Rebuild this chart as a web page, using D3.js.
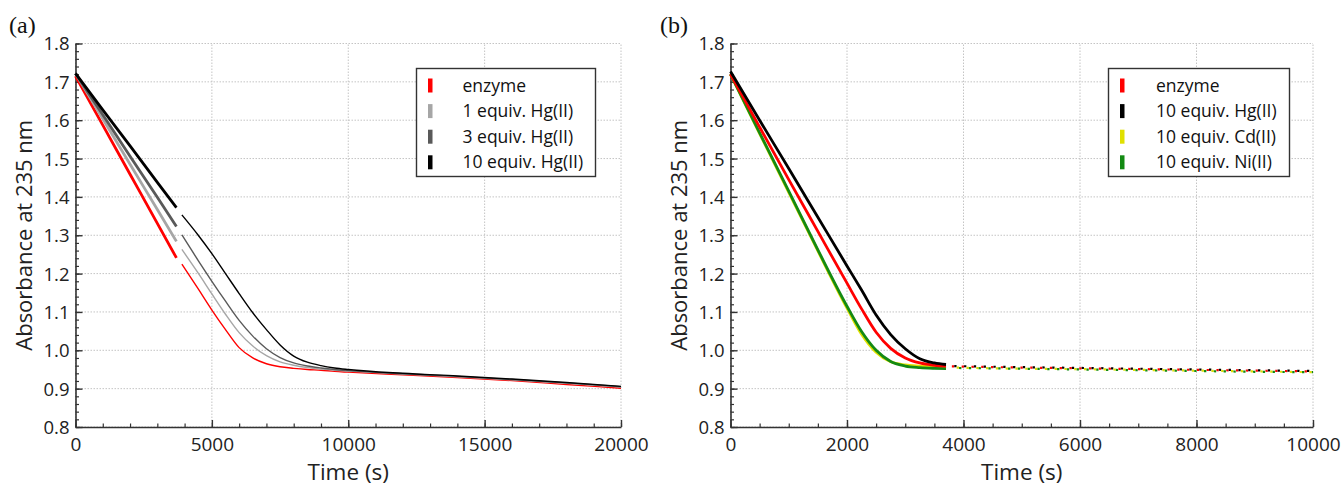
<!DOCTYPE html>
<html><head><meta charset="utf-8">
<script src="https://cdn.jsdelivr.net/npm/d3@7"></script>
<style>
body{margin:0;background:#fff}
svg{display:block}
</style>
</head><body>
<svg id="c" width="1341" height="487"></svg>
<script>
// ---------- Panel (a) data ----------
const aTime1 = [0, 1000, 2000, 3000, 3700];
const aEnzyme1 = [1.715, 1.587, 1.459, 1.331, 1.241];
const aHg1_1   = [1.722, 1.604, 1.485, 1.367, 1.284];
const aHg3_1   = [1.722, 1.614, 1.506, 1.399, 1.323];
const aHg10_1  = [1.722, 1.627, 1.533, 1.438, 1.372];

const aTime2 = [3900, 4500, 5000, 5500, 6000, 6500, 7000, 7500, 8000, 8500, 9000, 9500, 10000, 12000, 14000, 16000, 18000, 20000];
const aEnzyme2 = [1.225, 1.160, 1.105, 1.054, 1.007, 0.980, 0.965, 0.957, 0.953, 0.950, 0.948, 0.945, 0.943, 0.936, 0.929, 0.921, 0.911, 0.901];
const aHg1_2   = [1.263, 1.201, 1.147, 1.094, 1.046, 1.011, 0.986, 0.970, 0.961, 0.955, 0.951, 0.948, 0.946, 0.938, 0.931, 0.923, 0.914, 0.904];
const aHg3_2   = [1.301, 1.234, 1.180, 1.128, 1.078, 1.037, 1.004, 0.981, 0.967, 0.959, 0.954, 0.950, 0.947, 0.939, 0.932, 0.924, 0.915, 0.905];
const aHg10_2  = [1.353, 1.300, 1.252, 1.200, 1.148, 1.098, 1.054, 1.014, 0.985, 0.969, 0.960, 0.954, 0.950, 0.940, 0.933, 0.925, 0.916, 0.906];

const aLegend = ["enzyme", "1 equiv. Hg(II)", "3 equiv. Hg(II)", "10 equiv. Hg(II)"];
const aColors = ["#ff0000", "#a6a6a6", "#595959", "#000000"];

// ---------- Panel (b) data ----------
const bTime1 = [0, 500, 1000, 1500, 2000, 2250, 2500, 2750, 3000, 3250, 3500, 3700];
const bEnzyme1 = [1.720, 1.582, 1.445, 1.310, 1.175, 1.108, 1.047, 1.005, 0.980, 0.967, 0.961, 0.959];
const bHg1     = [1.727, 1.600, 1.474, 1.347, 1.220, 1.157, 1.092, 1.041, 1.004, 0.978, 0.967, 0.963];
const bCd1     = [1.720, 1.565, 1.412, 1.259, 1.110, 1.042, 0.995, 0.970, 0.962, 0.959, 0.957, 0.957];
const bNi1     = [1.720, 1.567, 1.415, 1.262, 1.115, 1.049, 1.000, 0.971, 0.959, 0.955, 0.953, 0.952];

const bTime2 = [3800, 5000, 6000, 7000, 8000, 9000, 10000];
const bEnzyme2 = [0.958, 0.955, 0.953, 0.951, 0.949, 0.947, 0.945];
const bHg2     = [0.959, 0.956, 0.954, 0.952, 0.950, 0.948, 0.946];
const bCd2     = [0.955, 0.952, 0.951, 0.949, 0.947, 0.945, 0.943];
const bNi2     = [0.954, 0.952, 0.950, 0.948, 0.946, 0.944, 0.943];

const bLegend = ["enzyme", "10 equiv. Hg(II)", "10 equiv. Cd(II)", "10 equiv. Ni(II)"];
const bColors = ["#ff0000", "#000000", "#e0e000", "#138a13"];

// ---------- Axis ticks ----------
const yTicks = [0.8, 0.9, 1.0, 1.1, 1.2, 1.3, 1.4, 1.5, 1.6, 1.7, 1.8];
const yTickLabels = ["0.8", "0.9", "1.0", "1.1", "1.2", "1.3", "1.4", "1.5", "1.6", "1.7", "1.8"];
const aXTicks = [0, 5000, 10000, 15000, 20000];
const bXTicks = [0, 2000, 4000, 6000, 8000, 10000];

const SANS = "'Open Sans',sans-serif";
const svg = d3.select("#c");
svg.append("rect").attr("width", 1341).attr("height", 487).attr("fill", "#fff");

const Y0 = 427, Y1 = 43.5;
const zip = (t, v) => t.map((d, i) => [d, v[i]]);

function panel(cfg) {
  const x = d3.scaleLinear().domain(cfg.xDomain).range(cfg.xRange);
  const y = d3.scaleLinear().domain([0.8, 1.8]).range([Y0, Y1]);
  const g = svg.append("g");

  // grid
  const grid = g.append("g").attr("stroke", "#c4c4c4").attr("stroke-width", 1).attr("stroke-dasharray", "1.5,1.5");
  cfg.xTicks.forEach(t => grid.append("line").attr("x1", x(t)).attr("x2", x(t)).attr("y1", Y0).attr("y2", Y1));
  yTicks.forEach(t => grid.append("line").attr("x1", cfg.xRange[0]).attr("x2", cfg.xRange[1]).attr("y1", y(t)).attr("y2", y(t)));

  // minor ticks
  const xMinor = d3.range(cfg.xDomain[0], cfg.xDomain[1] + 1, cfg.xMinorStep);
  const yMinor = d3.range(0, 51).map(i => 0.8 + i * 0.02);
  g.append("g").attr("transform", `translate(0,${Y0})`)
    .call(d3.axisBottom(x).tickValues(xMinor).tickSize(-3.5).tickSizeOuter(0).tickFormat(""))
    .call(s => s.select(".domain").remove())
    .selectAll("line").attr("stroke", "#333").attr("stroke-width", 1.2);
  g.append("g").attr("transform", `translate(${cfg.xRange[0]},0)`)
    .call(d3.axisLeft(y).tickValues(yMinor).tickSize(-3.5).tickSizeOuter(0).tickFormat(""))
    .call(s => s.select(".domain").remove())
    .selectAll("line").attr("stroke", "#333").attr("stroke-width", 1.2);

  // major axes
  const ax = g.append("g").attr("transform", `translate(0,${Y0})`)
    .call(d3.axisBottom(x).tickValues(cfg.xTicks).tickSize(-7).tickSizeOuter(0).tickFormat(d3.format("d")));
  ax.select(".domain").attr("stroke", "#333").attr("stroke-width", 1.6);
  ax.selectAll("line").attr("stroke", "#333").attr("stroke-width", 1.4);
  ax.selectAll("text").attr("y", 17).attr("dy", "0.35em").attr("fill", "#222")
    .style("font-family", SANS).style("font-size", "19px");

  const ay = g.append("g").attr("transform", `translate(${cfg.xRange[0]},0)`)
    .call(d3.axisLeft(y).tickValues(yTicks).tickSize(-7).tickSizeOuter(0).tickFormat((d, i) => yTickLabels[i]));
  ay.select(".domain").attr("stroke", "#333").attr("stroke-width", 1.6);
  ay.selectAll("line").attr("stroke", "#333").attr("stroke-width", 1.4);
  ay.selectAll("text").attr("x", -6).attr("dy", "0.35em").attr("fill", "#222")
    .style("font-family", SANS).style("font-size", "18.5px");

  // titles
  g.append("text").attr("transform", `translate(${cfg.xRange[0] - 51},${(Y0 + Y1) / 2}) rotate(-90)`)
    .attr("text-anchor", "middle").attr("dy", "0.35em").attr("fill", "#222")
    .style("font-family", SANS).style("font-size", "22px")
    .text("Absorbance at 235 nm");
  g.append("text").attr("x", (cfg.xRange[0] + cfg.xRange[1]) / 2).attr("y", 472)
    .attr("text-anchor", "middle").attr("dy", "0.35em").attr("fill", "#222")
    .style("font-family", SANS).style("font-size", "22.5px")
    .text("Time (s)");
  g.append("text").attr("x", cfg.labelX).attr("y", 33).attr("fill", "#111")
    .style("font-family", "'Liberation Serif','Times New Roman',serif").style("font-size", "24px")
    .text(cfg.label);

  // data
  const line = d3.line().x(d => x(d[0])).y(d => y(d[1])).curve(d3.curveMonotoneX);
  const dg = g.append("g");
  cfg.series1.forEach((s, i) => {
    dg.append("path").attr("d", line(zip(cfg.t1, s))).attr("fill", "none")
      .attr("stroke", cfg.colors1[i]).attr("stroke-width", cfg.w1);
  });
  cfg.series2.forEach((s, i) => {
    const p = dg.append("path").attr("d", line(zip(cfg.t2, s))).attr("fill", "none")
      .attr("stroke", cfg.colors2[i]).attr("stroke-width", cfg.w2);
    if (cfg.dash) p.attr("stroke-dasharray", cfg.dash).attr("stroke-dashoffset", cfg.dashOffsets[i]);
  });

  // legend
  const lg = g.append("g");
  lg.append("rect").attr("x", cfg.leg[0]).attr("y", cfg.leg[1]).attr("width", cfg.leg[2]).attr("height", cfg.leg[3])
    .attr("fill", "#fff").attr("stroke", "#333").attr("stroke-width", 1.4);
  cfg.legend.forEach((name, i) => {
    const cy = 85.5 + i * 25.6;
    lg.append("rect").attr("x", cfg.leg[0] + 11.5).attr("y", cy - 7).attr("width", 4.5).attr("height", 14)
      .attr("fill", cfg.legColors[i]);
    lg.append("text").attr("x", cfg.legTextX).attr("y", cy).attr("dy", "0.35em").attr("fill", "#111")
      .style("font-family", SANS).style("font-size", "17.5px")
      .text(name);
  });
}

panel({
  xDomain: [0, 20000], xRange: [75.5, 621], xTicks: aXTicks, xMinorStep: 1000,
  label: "(a)", labelX: 9,
  t1: aTime1, series1: [aEnzyme1, aHg1_1, aHg3_1, aHg10_1], colors1: aColors, w1: 2.8,
  t2: aTime2, series2: [aEnzyme2, aHg1_2, aHg3_2, aHg10_2], colors2: aColors, w2: 1.4,
  legend: aLegend, legColors: aColors, leg: [416.5, 68.5, 179, 108], legTextX: 462.5
});

panel({
  xDomain: [0, 10000], xRange: [730.5, 1313], xTicks: bXTicks, xMinorStep: 500,
  label: "(b)", labelX: 660,
  t1: bTime1, series1: [bCd1, bNi1, bEnzyme1, bHg1], colors1: [bColors[2], bColors[3], bColors[0], bColors[1]], w1: 2.8,
  t2: bTime2, series2: [bEnzyme2, bHg2, bCd2, bNi2], colors2: bColors, w2: 2.2,
  dash: "2.3 7.5", dashOffsets: [0, -2.4, -4.8, -7.2],
  legend: bLegend, legColors: bColors, leg: [1108.5, 68.5, 181, 108], legTextX: 1156
});
</script>
</body></html>
